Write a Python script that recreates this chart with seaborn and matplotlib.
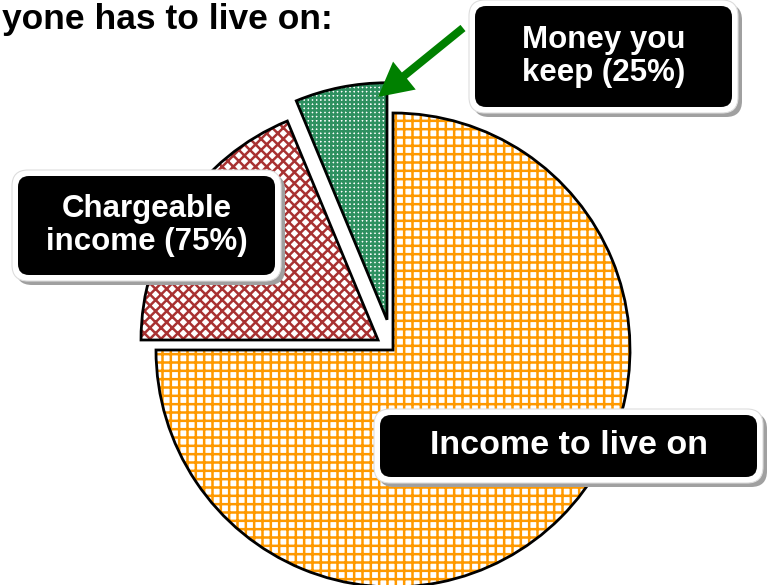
import matplotlib
matplotlib.use("Agg")
import matplotlib.pyplot as plt
import seaborn as sns
from matplotlib.patches import FancyBboxPatch, FancyArrow

# Datos del gráfico
categorias = ["Income to live on", "Chargeable income", "Money you keep"]
porcentajes = [75, 18.75, 6.25]
separacion = [0, 0.076, 0.13]
colores_trama = ["#FF9900", "#A83232", "#2E9060"]
tramas = ["++", "xxx", "++++"]

etiquetas = ["Money you\nkeep (25%)", "Chargeable\nincome (75%)", "Income to live on"]
titulo = "yone has to live on:"

sns.set_theme(style="white")
plt.rcParams["font.family"] = ["Liberation Sans", "DejaVu Sans"]
plt.rcParams["hatch.linewidth"] = 1.8

W, H = 771, 585
CX, CY, R = 393, 350, 237

fig = plt.figure(figsize=(W / 100, H / 100), dpi=100)
ax = fig.add_axes([0, 0, 1, 1])

# Relleno con trama de color
cunas, _ = ax.pie(porcentajes, explode=separacion, startangle=90, counterclock=False,
                  colors=["white"] * 3, wedgeprops=dict(linewidth=0))
for cuna, c, t in zip(cunas, colores_trama, tramas):
    cuna.set_edgecolor(c)
    cuna.set_hatch(t)

# Contorno negro
ax.pie(porcentajes, explode=separacion, startangle=90, counterclock=False,
       wedgeprops=dict(fill=False, edgecolor="black", linewidth=2))
ax.set_aspect("auto")
ax.set_xlim(-CX / R, (W - CX) / R)
ax.set_ylim(-(H - CY) / R, CY / R)
ax.axis("off")

# Capa superior en píxeles para cajas, flecha y título
capa = fig.add_axes([0, 0, 1, 1])
capa.patch.set_alpha(0)
capa.set_xlim(0, W)
capa.set_ylim(H, 0)
capa.axis("off")

cajas = [(475, 6, 257, 101, 22.5), (18, 176, 257, 99, 22.5), (380, 415, 377, 62, 24.5)]
borde = 6
for (x, y, w, h, fs), texto in zip(cajas, etiquetas):
    estilo_ext = "round,pad=0,rounding_size=16"
    capa.add_patch(FancyBboxPatch((x - borde + 4, y - borde + 4), w + 2 * borde, h + 2 * borde,
                                  boxstyle=estilo_ext, fc="#a0a0a0", ec="none"))
    capa.add_patch(FancyBboxPatch((x - borde, y - borde), w + 2 * borde, h + 2 * borde,
                                  boxstyle=estilo_ext, fc="white", ec="#dddddd", lw=0.8))
    capa.add_patch(FancyBboxPatch((x, y), w, h, boxstyle="round,pad=0,rounding_size=11",
                                  fc="black", ec="none"))
    capa.text(x + w / 2, y + h / 2, texto, color="white", fontsize=fs, fontweight="bold",
              ha="center", va="center", linespacing=1.1)

capa.add_patch(FancyArrow(463, 28, 378 - 463, 97 - 28, width=8, head_width=36,
                          head_length=34, length_includes_head=True, color="#008000", lw=0))

capa.text(2, 29, titulo, ha="left", va="baseline", fontsize=25.5, fontweight="bold",
          color="black")

fig.savefig("out.png", dpi=100)
